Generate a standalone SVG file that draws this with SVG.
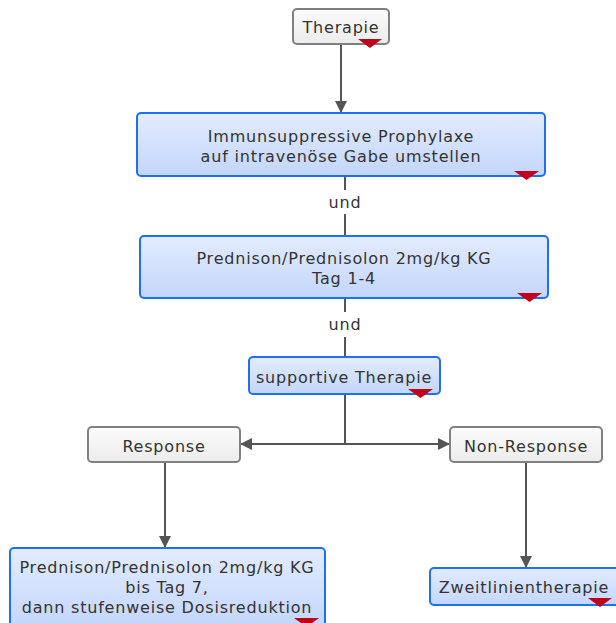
<svg xmlns="http://www.w3.org/2000/svg" width="616" height="623" viewBox="0 0 616 623">
<defs>
<linearGradient id="gb" x1="0" y1="0" x2="0" y2="1"><stop offset="0" stop-color="#e3ecff"/><stop offset="1" stop-color="#c3d6fb"/></linearGradient>
<linearGradient id="gg" x1="0" y1="0" x2="0" y2="1"><stop offset="0" stop-color="#fbfbfb"/><stop offset="1" stop-color="#ececec"/></linearGradient>
<marker id="ah" viewBox="0 0 12 12" refX="12" refY="6" markerWidth="12" markerHeight="12" markerUnits="userSpaceOnUse" orient="auto"><path d="M0,0 L12,6 L0,12 z" fill="#555"/></marker>
</defs>
<style>
.b{fill:url(#gb);stroke:#1f6ff2;stroke-width:2}
.g{fill:url(#gg);stroke:#808080;stroke-width:2}
.t{font-family:"DejaVu Sans",Verdana,sans-serif;font-size:16px;letter-spacing:0.8px;fill:#333;text-anchor:middle}
.tri{fill:#c0001a}
.c{stroke:#555;stroke-width:2;fill:none}
</style>
<g id="connectors">
<line class="c" x1="341" y1="44" x2="341" y2="113" marker-end="url(#ah)"/>
<line class="c" x1="345" y1="176" x2="345" y2="190"/>
<text class="t" x="345" y="208">und</text>
<line class="c" x1="345" y1="214" x2="345" y2="236"/>
<line class="c" x1="345" y1="298" x2="345" y2="312"/>
<text class="t" x="345" y="330">und</text>
<line class="c" x1="345" y1="337" x2="345" y2="357"/>
<polyline class="c" points="345,394 345,444"/>
<line class="c" x1="345" y1="444" x2="240" y2="444" marker-end="url(#ah)"/>
<line class="c" x1="345" y1="444" x2="450" y2="444" marker-end="url(#ah)"/>
<line class="c" x1="165" y1="462" x2="165" y2="548" marker-end="url(#ah)"/>
<line class="c" x1="526" y1="462" x2="526" y2="568" marker-end="url(#ah)"/>
</g>
<g id="therapie">
<rect class="g" x="293" y="9" width="96" height="35" rx="4"/>
<text class="t" x="341" y="33">Therapie</text>
<polygon class="tri" points="358,39 382,39 370,48"/>
</g>
<g id="prophylaxe">
<rect class="b" x="137" y="113" width="408" height="63" rx="4"/>
<text class="t" x="341" y="142">Immunsuppressive Prophylaxe</text>
<text class="t" x="341" y="162">auf intravenöse Gabe umstellen</text>
<polygon class="tri" points="514,171 539,171 526.5,180"/>
</g>
<g id="prednison">
<rect class="b" x="140" y="236" width="408" height="62" rx="4"/>
<text class="t" x="344" y="264">Prednison/Prednisolon 2mg/kg KG</text>
<text class="t" x="344" y="284">Tag 1-4</text>
<polygon class="tri" points="517,293 542,293 529.5,302"/>
</g>
<g id="supportiv">
<rect class="b" x="249" y="357" width="191" height="37" rx="4"/>
<text class="t" x="344" y="383">supportive Therapie</text>
<polygon class="tri" points="408,389 433,389 420.5,398"/>
</g>
<g id="response">
<rect class="g" x="88" y="427" width="152" height="35" rx="4"/>
<text class="t" x="164" y="452">Response</text>
</g>
<g id="nonresponse">
<rect class="g" x="450" y="427" width="152" height="35" rx="4"/>
<text class="t" x="526" y="452">Non-Response</text>
</g>
<g id="reduktion">
<rect class="b" x="10" y="548" width="315" height="80" rx="4"/>
<text class="t" x="167" y="573">Prednison/Prednisolon 2mg/kg KG</text>
<text class="t" x="167" y="593">bis Tag 7,</text>
<text class="t" x="167" y="613">dann stufenweise Dosisreduktion</text>
<polygon class="tri" points="294,618 319,618 306.5,627"/>
</g>
<g id="zweitlinie">
<rect class="b" x="430" y="568" width="190" height="37" rx="4"/>
<text class="t" x="524" y="593">Zweitlinientherapie</text>
<polygon class="tri" points="588,598 612,598 600,607"/>
</g>
</svg>
